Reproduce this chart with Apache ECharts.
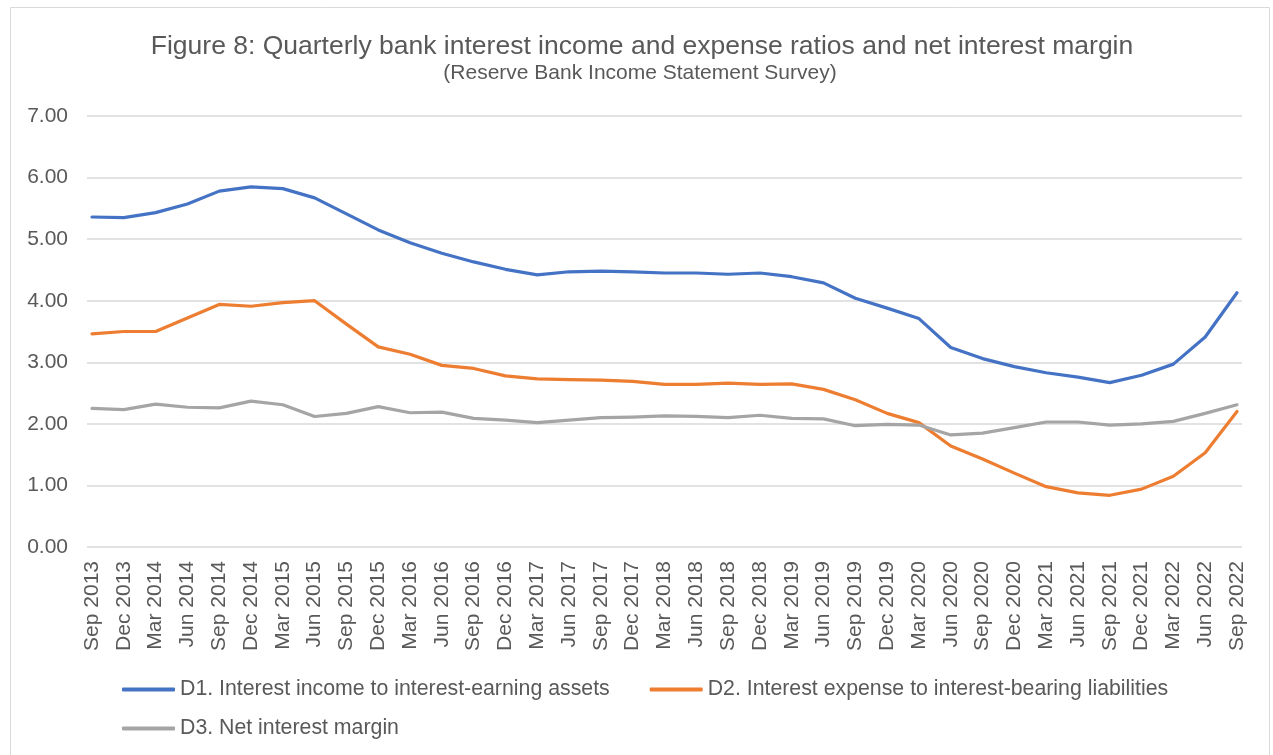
<!DOCTYPE html>
<html>
<head>
<meta charset="utf-8">
<style>
  html, body { margin: 0; padding: 0; background: #ffffff; }
  #chart { width: 1273px; height: 755px; }
</style>
<script src="https://cdn.jsdelivr.net/npm/echarts@6/dist/echarts.min.js"></script>
</head>
<body>
<div id="chart"></div>
<script>
// Quarters, Sep 2013 to Sep 2022
const quarters = [
  'Sep 2013','Dec 2013','Mar 2014','Jun 2014','Sep 2014','Dec 2014','Mar 2015','Jun 2015',
  'Sep 2015','Dec 2015','Mar 2016','Jun 2016','Sep 2016','Dec 2016','Mar 2017','Jun 2017',
  'Sep 2017','Dec 2017','Mar 2018','Jun 2018','Sep 2018','Dec 2018','Mar 2019','Jun 2019',
  'Sep 2019','Dec 2019','Mar 2020','Jun 2020','Sep 2020','Dec 2020','Mar 2021','Jun 2021',
  'Sep 2021','Dec 2021','Mar 2022','Jun 2022','Sep 2022'
];

// D1. Interest income to interest-earning assets (%)
const incomeRatio = [
  5.36, 5.35, 5.43, 5.57, 5.78, 5.85, 5.82, 5.67, 5.41, 5.15, 4.94, 4.77, 4.63,
  4.51, 4.42, 4.47, 4.48, 4.47, 4.45, 4.45, 4.43, 4.45, 4.39, 4.29, 4.04, 3.88,
  3.71, 3.24, 3.06, 2.93, 2.83, 2.76, 2.67, 2.79, 2.97, 3.41, 4.13
];

// D2. Interest expense to interest-bearing liabilities (%)
const expenseRatio = [
  3.46, 3.50, 3.50, 3.72, 3.94, 3.91, 3.97, 4.00, 3.62, 3.25, 3.13, 2.95, 2.90,
  2.78, 2.73, 2.72, 2.71, 2.69, 2.64, 2.64, 2.66, 2.64, 2.65, 2.56, 2.39, 2.17,
  2.02, 1.64, 1.43, 1.20, 0.98, 0.88, 0.84, 0.94, 1.15, 1.53, 2.20
];

// D3. Net interest margin (%)
const netMargin = [
  2.25, 2.23, 2.32, 2.27, 2.26, 2.37, 2.31, 2.12, 2.17, 2.28, 2.18, 2.19, 2.09,
  2.06, 2.02, 2.06, 2.10, 2.11, 2.13, 2.12, 2.10, 2.14, 2.09, 2.08, 1.97, 1.99,
  1.98, 1.82, 1.85, 1.94, 2.03, 2.03, 1.98, 2.00, 2.04, 2.17, 2.31
];

const seriesNames = [
  'D1. Interest income to interest-earning assets',
  'D2. Interest expense to interest-bearing liabilities',
  'D3. Net interest margin'
];
const seriesColors = ['#4472C4', '#ED7D31', '#A5A5A5'];

const FONT = '"Liberation Sans", Arial, sans-serif';
const TEXT = '#595959';
const Y_MIN = 0, Y_MAX = 7, Y_STEP = 1;

const chart = echarts.init(document.getElementById('chart'), null, { renderer: 'canvas' });

const gridTop = 116, gridBottom = 208;

chart.setOption({
  animation: false,
  backgroundColor: '#ffffff',
  textStyle: { fontFamily: FONT },
  graphic: [{
    type: 'rect',
    shape: { x: 10.5, y: 7.5, width: 1259, height: 780 },
    style: { fill: 'none', stroke: '#D9D9D9', lineWidth: 1 },
    silent: true
  }],
  title: [{
    text: 'Figure 8: Quarterly bank interest income and expense ratios and net interest margin',
    left: 642, top: 33, textAlign: 'center', padding: 0,
    textStyle: { fontFamily: FONT, fontSize: 26.5, fontWeight: 'normal', color: TEXT }
  }, {
    text: '(Reserve Bank Income Statement Survey)',
    left: 640, top: 63, textAlign: 'center', padding: 0,
    textStyle: { fontFamily: FONT, fontSize: 21, fontWeight: 'normal', color: TEXT }
  }],
  legend: [{
    data: [seriesNames[0], seriesNames[1]],
    left: 122, top: 679, padding: 0,
    itemWidth: 53, itemHeight: 4, itemGap: 40,
    icon: 'roundRect',
    textStyle: { fontFamily: FONT, fontSize: 21.3, color: TEXT }
  }, {
    data: [seriesNames[2]],
    left: 122, top: 718, padding: 0,
    itemWidth: 53, itemHeight: 4,
    icon: 'roundRect',
    textStyle: { fontFamily: FONT, fontSize: 21.3, color: TEXT }
  }],
  grid: [
    // value axis and gridlines
    { left: 87, right: 31, top: gridTop, bottom: gridBottom },
    // plotted quarters
    { left: 92, right: 36, top: gridTop, bottom: gridBottom }
  ],
  xAxis: [{
    gridIndex: 0, type: 'category', data: quarters, show: false
  }, {
    gridIndex: 1, type: 'category', data: quarters, boundaryGap: false,
    axisLine: { show: false }, axisTick: { show: false },
    axisLabel: {
      rotate: 90, interval: 0, margin: 14,
      fontFamily: FONT, fontSize: 21, color: TEXT
    },
    splitLine: { show: false }
  }],
  yAxis: [{
    gridIndex: 0, type: 'value', min: Y_MIN, max: Y_MAX, interval: Y_STEP,
    axisLine: { show: false }, axisTick: { show: false },
    axisLabel: {
      margin: 19, fontFamily: FONT, fontSize: 21, color: TEXT,
      formatter: v => v.toFixed(2)
    },
    splitLine: { lineStyle: { color: '#D9D9D9', width: 1.5 } }
  }, {
    gridIndex: 1, type: 'value', min: Y_MIN, max: Y_MAX, interval: Y_STEP, show: false
  }],
  series: [incomeRatio, expenseRatio, netMargin].map((values, i) => ({
    name: seriesNames[i],
    type: 'line',
    xAxisIndex: 1, yAxisIndex: 1,
    data: values,
    symbol: 'none',
    smooth: false,
    color: seriesColors[i],
    lineStyle: { color: seriesColors[i], width: 3.2, cap: 'round', join: 'round' }
  }))
});
</script>
</body>
</html>
